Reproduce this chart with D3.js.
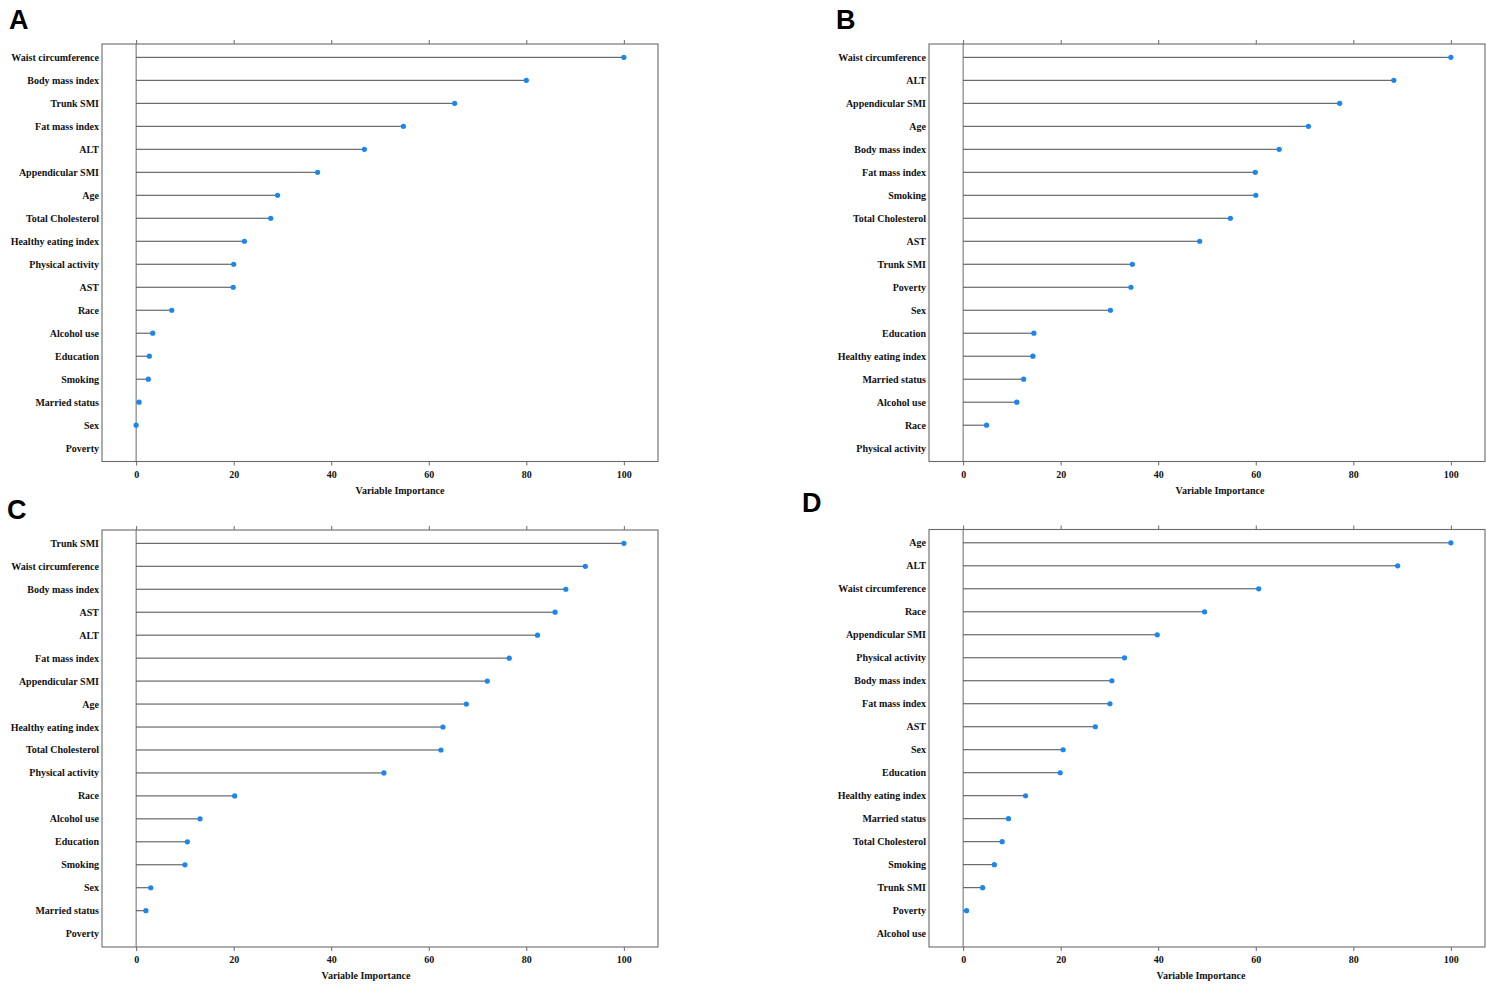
<!DOCTYPE html>
<html>
<head>
<meta charset="utf-8">
<script src="https://cdn.jsdelivr.net/npm/d3@7"></script>
<style>
  html, body { margin: 0; padding: 0; background: #fff; }
  svg { display: block; }
  .lbl { font-family: "Liberation Serif", "Times New Roman", serif; font-weight: bold; font-size: 10px; fill: #111; }
  .panel { font-family: "Liberation Sans", Arial, sans-serif; font-weight: bold; font-size: 27px; fill: #000; }
</style>
</head>
<body>
<svg id="chart" width="1486" height="984"></svg>
<script>
// ---------- data ----------
const tickValues = [0, 20, 40, 60, 80, 100];
const axisTitle = "Variable Importance";

const namesA = ["Waist circumference","Body mass index","Trunk SMI","Fat mass index","ALT","Appendicular SMI","Age","Total Cholesterol","Healthy eating index","Physical activity","AST","Race","Alcohol use","Education","Smoking","Married status","Sex","Poverty"];
const valuesA = [100, 80.0, 65.3, 54.8, 46.8, 37.2, 29.0, 27.6, 22.2, 20.0, 19.9, 7.3, 3.4, 2.7, 2.5, 0.6, 0, null];

const namesB = ["Waist circumference","ALT","Appendicular SMI","Age","Body mass index","Fat mass index","Smoking","Total Cholesterol","AST","Trunk SMI","Poverty","Sex","Education","Healthy eating index","Married status","Alcohol use","Race","Physical activity"];
const valuesB = [100, 88.3, 77.2, 70.8, 64.8, 59.9, 60.0, 54.8, 48.5, 34.7, 34.4, 30.2, 14.5, 14.3, 12.4, 11.0, 4.8, null];

const namesC = ["Trunk SMI","Waist circumference","Body mass index","AST","ALT","Fat mass index","Appendicular SMI","Age","Healthy eating index","Total Cholesterol","Physical activity","Race","Alcohol use","Education","Smoking","Sex","Married status","Poverty"];
const valuesC = [100, 92.1, 88.1, 85.9, 82.3, 76.5, 72.0, 67.7, 62.9, 62.5, 50.8, 20.2, 13.1, 10.5, 10.0, 3.0, 2.0, null];

const namesD = ["Age","ALT","Waist circumference","Race","Appendicular SMI","Physical activity","Body mass index","Fat mass index","AST","Sex","Education","Healthy eating index","Married status","Total Cholesterol","Smoking","Trunk SMI","Poverty","Alcohol use"];
const valuesD = [100, 89.1, 60.6, 49.5, 39.8, 33.1, 30.5, 30.1, 27.1, 20.5, 19.9, 12.8, 9.3, 8.0, 6.4, 4.0, 0.7, null];

// ---------- layout ----------
const panels = [
  {letter:"A", names:namesA, values:valuesA, left:102, right:658, top:44, bottom:461.5, lx:9, ly:29, titleX:400},
  {letter:"B", names:namesB, values:valuesB, left:929, right:1485, top:44, bottom:461.5, lx:836, ly:29, titleX:1220},
  {letter:"C", names:namesC, values:valuesC, left:102, right:658, top:530, bottom:947, lx:7, ly:519, titleX:366},
  {letter:"D", names:namesD, values:valuesD, left:929, right:1485, top:529.5, bottom:947, lx:802, ly:512, titleX:1201}
];

const svg = d3.select("#chart");
const frameColor = "#6a6a6a";
const stemColor = "#4a4a4a";
const dotColor = "#1a86ee";

panels.forEach(p => {
  const g = svg.append("g");
  const x = d3.scaleLinear().domain([-7, 107]).range([p.left, p.right]);
  const y = d3.scalePoint().domain(p.names).range([p.top, p.bottom]).padding(0.58);

  // frame
  g.append("rect")
    .attr("x", p.left).attr("y", p.top)
    .attr("width", p.right - p.left).attr("height", p.bottom - p.top)
    .attr("fill", "none").attr("stroke", frameColor).attr("stroke-width", 1.1);

  // top axis: ticks only
  const top = g.append("g").attr("transform", `translate(0,${p.top})`)
    .call(d3.axisTop(x).tickValues(tickValues).tickSize(4).tickFormat(""));
  top.select(".domain").remove();
  top.selectAll("line").attr("stroke", frameColor);

  // bottom axis
  const bot = g.append("g").attr("transform", `translate(0,${p.bottom})`)
    .call(d3.axisBottom(x).tickValues(tickValues).tickSize(4).tickPadding(5).tickFormat(d3.format("d")));
  bot.select(".domain").remove();
  bot.selectAll("line").attr("stroke", frameColor);
  bot.selectAll("text").attr("class", "lbl").attr("font-family", null).attr("font-size", null).attr("fill", null);

  // zero line
  g.append("line")
    .attr("x1", x(0)).attr("x2", x(0))
    .attr("y1", p.top).attr("y2", p.bottom)
    .attr("stroke", frameColor).attr("stroke-width", 1);

  const data = p.names.map((n, i) => ({name: n, value: p.values[i]})).filter(d => d.value !== null);

  // stems
  g.selectAll("line.stem").data(data).join("line")
    .attr("class", "stem")
    .attr("x1", x(0)).attr("x2", d => x(d.value))
    .attr("y1", d => y(d.name)).attr("y2", d => y(d.name))
    .attr("stroke", stemColor).attr("stroke-width", 1);

  // dots
  g.selectAll("circle").data(data).join("circle")
    .attr("cx", d => x(d.value)).attr("cy", d => y(d.name))
    .attr("r", 2.6).attr("fill", dotColor);

  // category labels
  g.selectAll("text.cat").data(p.names).join("text")
    .attr("class", "lbl cat")
    .attr("x", p.left - 3).attr("y", d => y(d))
    .attr("dy", "0.35em").attr("text-anchor", "end")
    .text(d => d);

  // axis title
  g.append("text").attr("class", "lbl")
    .attr("x", p.titleX).attr("y", p.bottom + 32)
    .attr("text-anchor", "middle")
    .text(axisTitle);

  // panel letter
  g.append("text").attr("class", "panel")
    .attr("x", p.lx).attr("y", p.ly)
    .text(p.letter);
});
</script>
</body>
</html>
